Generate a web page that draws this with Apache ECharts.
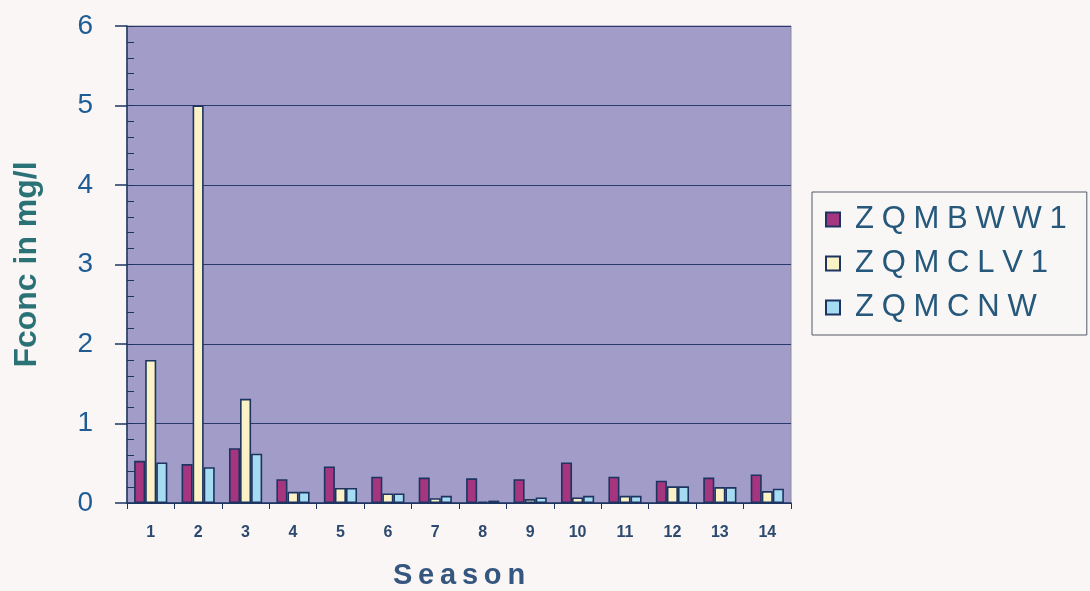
<!DOCTYPE html>
<html>
<head>
<meta charset="utf-8">
<title>Fconc by Season</title>
<script src="https://cdn.jsdelivr.net/npm/echarts@6/dist/echarts.min.js"></script>
<style>
  html, body { margin: 0; padding: 0; background: #faf6f6; }
  #chart { width: 1090px; height: 591px; }
</style>
</head>
<body>
<div id="chart"></div>
<script>
// Seasons on the x axis
const seasons = ['1', '2', '3', '4', '5', '6', '7', '8', '9', '10', '11', '12', '13', '14'];

// Fluoride concentration (mg/l) per sampling site
const zqmbww1 = [0.53, 0.49, 0.69, 0.30, 0.46, 0.33, 0.32, 0.31, 0.30, 0.51, 0.33, 0.28, 0.32, 0.36];
const zqmclv1 = [1.80, 5.00, 1.31, 0.14, 0.19, 0.12, 0.06, 0.02, 0.05, 0.07, 0.09, 0.21, 0.20, 0.15];
const zqmcnw  = [0.51, 0.45, 0.62, 0.14, 0.19, 0.12, 0.09, 0.03, 0.07, 0.09, 0.09, 0.21, 0.20, 0.18];

const seriesNames = ['ZQMBWW1', 'ZQMCLV1', 'ZQMCNW'];
const seriesValues = [zqmbww1, zqmclv1, zqmcnw];
const seriesColors = ['#a5357f', '#fbf3c6', '#a6dcf2'];

const outline = '#1d3460';
const font = 'Liberation Sans, Arial, sans-serif';

// spread letters out a little, like the original typesetting
const spaced = (s, sp) => s.split('').join(sp);

const chart = echarts.init(document.getElementById('chart'), null, { renderer: 'canvas' });

chart.setOption({
  backgroundColor: '#faf6f6',
  animation: false,
  grid: {
    left: 127, top: 26, right: 299, bottom: 88,
    outerBoundsMode: 'none',
    containLabel: false,
    show: true,
    backgroundColor: '#a19dc8',
    borderColor: '#8a8aa0',
    borderWidth: 1
  },
  legend: {
    orient: 'vertical',
    left: 812, top: 192,
    padding: [12, 20, 12, 13],
    itemWidth: 14, itemHeight: 14,
    itemGap: 13,
    backgroundColor: '#f9f6f6',
    borderColor: '#555a66',
    borderWidth: 1,
    borderRadius: 0,
    icon: 'rect',
    data: seriesNames,
    formatter: name => spaced(name, '\u2005'),
    textStyle: {
      fontFamily: font,
      fontSize: 31,
      color: '#25587a',
      padding: [0, 0, 0, 10]
    }
  },
  xAxis: {
    type: 'category',
    data: seasons,
    name: spaced('Season', '\u2009'),
    nameLocation: 'middle',
    nameGap: 58,
    nameTextStyle: {
      fontFamily: font,
      fontSize: 29,
      fontWeight: 'bold',
      color: '#35567f'
    },
    axisLine: { show: true, lineStyle: { color: outline, width: 1.5 } },
    axisTick: { show: true, alignWithLabel: false, length: 6, lineStyle: { color: outline } },
    axisLabel: {
      margin: 22,
      fontFamily: font,
      fontSize: 16,
      fontWeight: 'bold',
      color: '#2d4a6e'
    },
    splitLine: { show: false }
  },
  yAxis: [
    {
      type: 'value',
      min: 0, max: 6, interval: 1,
      name: 'Fconc in mg/l',
      nameLocation: 'middle',
      nameRotate: 90,
      nameGap: 84,
      nameTextStyle: {
        fontFamily: font,
        fontSize: 32,
        fontWeight: 'bold',
        color: '#2b7276'
      },
      axisLine: { show: true, lineStyle: { color: outline, width: 1.5 } },
      axisTick: { show: true, length: 12, lineStyle: { color: outline, width: 1.5 } },
      axisLabel: {
        margin: 34,
        fontFamily: font,
        fontSize: 28,
        color: '#1f5c94'
      },
      splitLine: { show: true, lineStyle: { color: '#2a3a6c', width: 1.2 } }
    },
    {
      // minor ticks pointing into the plot area
      type: 'value',
      position: 'left',
      min: 0, max: 6, interval: 0.2,
      axisLine: { show: false },
      axisTick: { show: true, inside: true, length: 7, lineStyle: { color: outline, width: 1 } },
      axisLabel: { show: false },
      splitLine: { show: false }
    }
  ],
  series: seriesValues.map((vals, i) => ({
    name: seriesNames[i],
    type: 'bar',
    data: vals,
    barGap: '0%',
    barCategoryGap: '30%',
    itemStyle: {
      color: seriesColors[i],
      borderColor: outline,
      borderWidth: 1.6
    }
  }))
});
</script>
</body>
</html>
